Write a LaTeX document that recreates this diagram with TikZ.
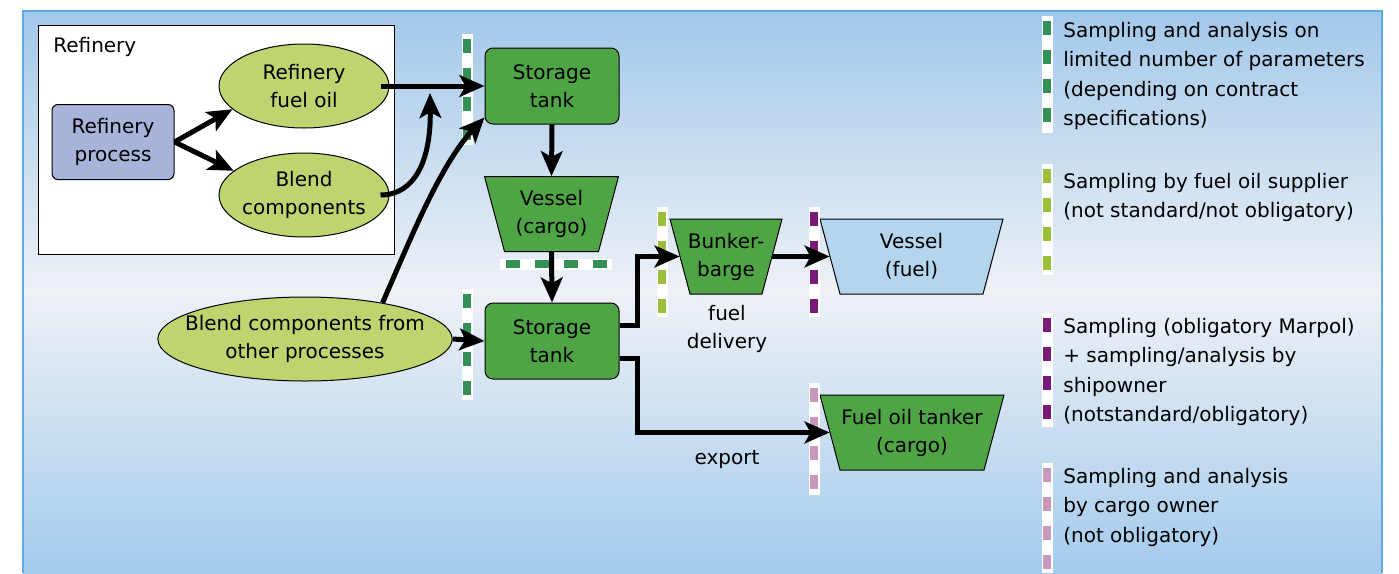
\documentclass[tikz,border=0pt]{standalone}
\usepackage{fontspec}
\setmainfont{DejaVu Sans}
\usetikzlibrary{arrows.meta,calc,shapes.geometric}
\definecolor{skytop}{HTML}{A2C8EA}
\definecolor{skymid}{HTML}{EEF1F6}
\definecolor{skybottom}{HTML}{A4CBEC}
\definecolor{skyedge}{HTML}{5CAAE1}
\definecolor{tankgreen}{HTML}{4FA546}
\definecolor{blendgreen}{HTML}{BDD46F}
\definecolor{procblue}{HTML}{A8B3DA}
\definecolor{fuelblue}{HTML}{B3D5EE}
\definecolor{sampdark}{HTML}{349155}
\definecolor{samplight}{HTML}{9ABF3A}
\definecolor{sampowner}{HTML}{7A1A78}
\definecolor{sampcargo}{HTML}{C899BC}

\begin{document}
\begin{tikzpicture}[
    x=0.6pt,
    y=-0.6pt,
    font=\fontsize{12}{16.8}\selectfont,
    tank/.style={draw,fill=tankgreen,rounded corners=4.8pt,line width=0.6pt,
      minimum width=80.4pt,minimum height=45.6pt,inner sep=0pt,align=center},
    blob/.style={ellipse,draw,fill=blendgreen,line width=0.6pt,
      minimum width=102pt,minimum height=50.4pt,inner ysep=0pt,inner xsep=-1pt,
      align=center},
    hull/.style={minimum height=45pt,inner sep=0pt,align=center},
    flow/.style={line width=3pt,-{Stealth[length=15pt,width=13pt,inset=3.5pt]}},
    sampledash/.style={line width=4.8pt,dash pattern=on 8.4pt off 9pt}
  ]
    \useasboundingbox (0,0) rectangle (1399,573);

    % Sky background with its frame.
    \shade[top color=skytop,bottom color=skybottom,middle color=skymid]
      (23,11) rectangle (1382,573);
    \draw[skyedge,line width=1.2pt] (23,573) -- (23,11) -- (1382,11) -- (1382,573);

    % Refinery block.
    \draw[fill=white,line width=0.6pt] (38,25) rectangle (394,254);
    \node[anchor=west,inner sep=0pt] (reflabel) at (53,47) {Refinery};
    \node[draw,fill=procblue,rounded corners=3.6pt,line width=0.6pt,
      minimum width=73.2pt,minimum height=45pt,inner sep=0pt,align=center]
      (refproc) at (113,142) {Refinery\\process};
    \node[blob] (fueloil) at (304,86) {Refinery\\fuel oil};
    \node[blob] (blend) at (304,195) {Blend\\components};
    \node[blob,minimum width=171.6pt,inner xsep=-9.5pt] (otherblend) at (305,339)
      {Blend components from\\other processes};

    % Tanks.
    \node[tank] (tankA) at (552,86) {Storage\\tank};
    \node[tank] (tankB) at (552,341) {Storage\\tank};

    % Ship hulls: wide deck on top, 20 units narrower keel.
    \foreach \cx/\cy/\w/\hc in {551.5/214/134/tankgreen,726/256.5/112/tankgreen,
        911.5/256.5/183/fuelblue,912/432.5/184/tankgreen}{%
      \draw[fill=\hc,line width=0.6pt]
        (\cx-\w/2,\cy-37.5) -- (\cx+\w/2,\cy-37.5)
        -- (\cx+\w/2-20,\cy+37.5) -- (\cx-\w/2+20,\cy+37.5) -- cycle;
    }
    \node[hull,minimum width=68.4pt] (cargoship) at (551.5,214) {Vessel\\(cargo)};
    \node[hull,minimum width=55.2pt] (barge) at (726,256.5) {Bunker-\\barge};
    \node[hull,minimum width=97.8pt] (fuelship) at (911.5,256.5) {Vessel\\(fuel)};
    \node[hull,minimum width=98.4pt] (tanker) at (912,432.5) {Fuel oil tanker\\(cargo)};
    \node[align=center] (deliverylbl) at (727,329) {fuel\\delivery};
    \node (exportlbl) at (727,460) {export};

    % Sampling points: white strip with coloured dashes.
    \foreach \mx/\ma/\mb/\mc in {467/34/145/sampdark,467/289/400/sampdark,
        662/207/317/samplight,814/207/317/sampowner,814/383/495/sampcargo,
        1047/16/133/sampdark,1047/164/275/samplight,
        1047/313/427/sampowner,1047/463/573/sampcargo}{%
      \fill[white] (\mx-5.5,\ma) rectangle (\mx+5.5,\mb);
      \draw[\mc,sampledash] (\mx,\ma+5) -- (\mx,\mb);
    }
    \fill[white] (500,258.5) rectangle (612,269.5);
    \draw[sampdark,sampledash] (506,264) -- (612,264);

    % Flows.
    \coordinate (joinpt) at (430,93);
    \draw[flow] (refproc.east) -- (fueloil.198);
    \draw[flow] (refproc.east) -- (blend.161);
    \draw[flow] ([xshift=-5.4pt]fueloil.east) -- (tankA.west);
    \draw[flow] ([xshift=-5.4pt]blend.east)
      .. controls (415,195) and (431,160) .. (joinpt);
    \draw[flow] (otherblend.25)
      .. controls (410,240) and (440,165) .. (tankA.205);
    \draw[flow] (otherblend.east) -- (tankB.west);
    \draw[flow] (tankA.south) -- (cargoship.north);
    \draw[flow] (cargoship.south) -- (tankB.north);
    \draw[flow] ($(tankB.east)+(0,-16)$) -- ++(18,0) |- (barge.west);
    \draw[flow] (barge.east) -- (fuelship.west);
    \draw[flow] ($(tankB.east)+(0,17)$) -- ++(18,0) |- (tanker.west);

    % Legend.
    \begin{scope}[every node/.style={anchor=north west,inner sep=0pt,align=left,
        font=\fontsize{12}{17.6}\selectfont}]
      \node (keydark) at (1063,22) {Sampling and analysis on\\limited number of parameters\\(depending on contract\\specifications)};
      \node (keylight) at (1063,173) {Sampling by fuel oil supplier\\(not standard/not obligatory)};
      \node (keyowner) at (1063,318) {Sampling (obligatory Marpol)\\+ sampling/analysis by\\shipowner\\(notstandard/obligatory)};
      \node (keycargo) at (1063,468) {Sampling and analysis\\by cargo owner\\(not obligatory)};
    \end{scope}
  \end{tikzpicture}
\end{document}
